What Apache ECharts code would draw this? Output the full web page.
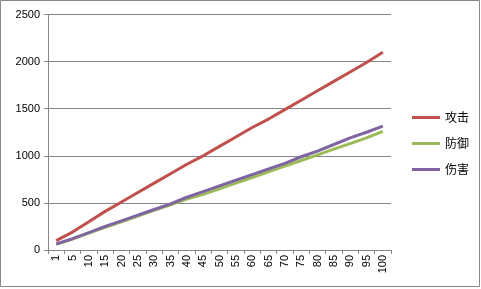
<!DOCTYPE html>
<html><head><meta charset="utf-8">
<script src="https://cdn.jsdelivr.net/npm/echarts@6/dist/echarts.min.js"></script>
<style>html,body{margin:0;padding:0;background:#fff}#c{width:481px;height:289px}</style>
</head><body><div id="c"></div>
<script>
const categories = ['1','5','10','15','20','25','30','35','40','45','50','55','60','65','70','75','80','85','90','95','100'];
const attack  = [100,190,300,410,510,610,710,810,910,1000,1100,1200,1300,1390,1490,1590,1690,1790,1890,1990,2100];
const defense = [60,115,180,240,300,360,420,480,540,590,650,710,770,830,890,950,1010,1070,1130,1190,1260];
const damage  = [65,120,185,250,310,370,430,490,560,620,680,740,800,860,920,990,1050,1120,1190,1250,1315];
const seriesNames = ['攻击','防御','伤害'];
const yTicks = {min:0, max:2500, interval:500};

const chart = echarts.init(document.getElementById('c'), null, {renderer:'canvas'});
const axisColor = '#868686';
const mk = (name, data, color) => ({
  name, type:'line', data, symbol:'none', smooth:false,
  lineStyle:{color, width:3}, itemStyle:{color}
});
chart.setOption({
  animation:false,
  graphic:[{type:'rect', shape:{x:0.5,y:0.5,width:479,height:286}, style:{fill:'none', stroke:axisColor, lineWidth:1}, silent:true}],
  grid:{left:48, right:90, top:14.5, bottom:39, containLabel:false},
  legend:{
    orient:'vertical', left:407, top:106, icon:'rect', itemWidth:28, itemHeight:3, itemGap:13,
    textStyle:{fontFamily:'Noto Sans CJK SC', fontSize:12, color:'#000', lineHeight:13},
    data:seriesNames
  },
  xAxis:{
    type:'category', data:categories, boundaryGap:true,
    axisLine:{lineStyle:{color:axisColor}},
    axisTick:{show:true, interval:0, length:4, lineStyle:{color:axisColor}},
    axisLabel:{interval:0, rotate:90, margin:5, fontFamily:'Liberation Sans', fontSize:11, color:'#000'}
  },
  yAxis:{
    type:'value', min:yTicks.min, max:yTicks.max, interval:yTicks.interval,
    axisLine:{show:true, lineStyle:{color:axisColor}},
    axisTick:{show:true, length:4, lineStyle:{color:axisColor}},
    splitLine:{show:true, lineStyle:{color:axisColor, width:1}},
    axisLabel:{margin:8, fontFamily:'Liberation Sans', fontSize:11, color:'#000', formatter:(v)=>String(v)}
  },
  series:[
    mk(seriesNames[0], attack, '#C0504D'),
    mk(seriesNames[1], defense, '#9BBB59'),
    mk(seriesNames[2], damage, '#8064A2')
  ]
});
</script></body></html>
